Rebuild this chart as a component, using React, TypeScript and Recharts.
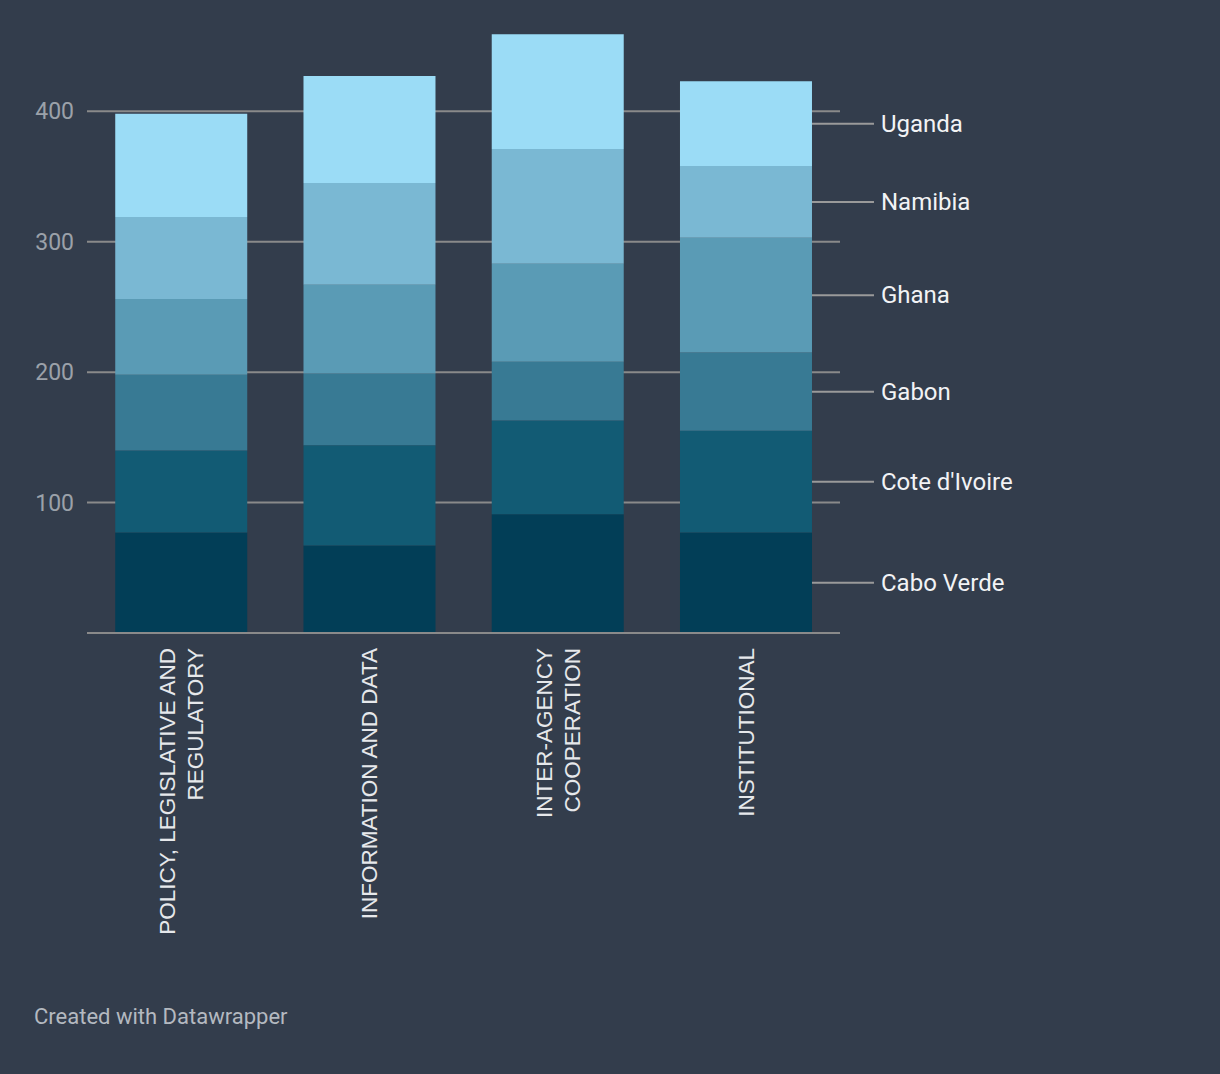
import React from 'react';
import { BarChart, Bar, XAxis, YAxis, CartesianGrid, LabelList } from 'recharts';

const categories = [
  'POLICY, LEGISLATIVE AND REGULATORY',
  'INFORMATION AND DATA',
  'INTER-AGENCY COOPERATION',
  'INSTITUTIONAL',
];
const tickLabelLines: string[][] = [
  ['POLICY, LEGISLATIVE AND', 'REGULATORY'],
  ['INFORMATION AND DATA'],
  ['INTER-AGENCY', 'COOPERATION'],
  ['INSTITUTIONAL'],
];

const caboVerde = [77, 67, 91, 77];
const coteDIvoire = [63, 77, 72, 78];
const gabon = [58, 55, 45, 60];
const ghana = [58, 68, 75, 88];
const namibia = [63, 78, 88, 55];
const uganda = [79, 82, 88, 65];

const seriesNames = ['Cabo Verde', "Cote d'Ivoire", 'Gabon', 'Ghana', 'Namibia', 'Uganda'];
const seriesValues = [caboVerde, coteDIvoire, gabon, ghana, namibia, uganda];
const seriesColors = ['#023e57', '#125b74', '#387a94', '#5a9bb5', '#7ab8d3', '#9bdcf6'];

const yTicks = [100, 200, 300, 400];

const data = categories.map((c, i) => {
  const row: any = { category: c, idx: i };
  seriesNames.forEach((s, k) => {
    row[s] = seriesValues[k][i];
  });
  return row;
});

const BG = '#333d4c';
const GRID = '#8a8a8a';

const XTick = (props: any) => {
  const { x, payload } = props;
  const lines = tickLabelLines[payload.index] || [String(payload.value)];
  const n = lines.length;
  const lh = 28;
  const startDy = -((n - 1) * lh) / 2 + 8.1;
  return (
    <g transform={`translate(${x},648)`}>
      <text
        transform="rotate(-90)"
        textAnchor="end"
        fill="#e6e8eb"
        fontFamily="'Liberation Sans', Arial, sans-serif"
        fontSize={22.5}
      >
        {lines.map((l, i) => (
          <tspan key={i} x={0} y={startDy + i * lh}>
            {l}
          </tspan>
        ))}
      </text>
    </g>
  );
};

const makeLabel = (name: string) => (props: any) => {
  const { x, y, width, height, index } = props;
  if (index !== categories.length - 1) return null;
  const cy = Number(y) + Number(height) / 2;
  const x0 = Number(x) + Number(width);
  return (
    <g>
      <line x1={x0} y1={cy} x2={x0 + 62} y2={cy} stroke="#9a9a9a" strokeWidth={2} />
      <text
        x={x0 + 69}
        y={cy}
        dy="0.34em"
        fill="#f2f3f5"
        fontFamily="Roboto"
        fontSize={24}
      >
        {name}
      </text>
    </g>
  );
};

export default function App() {
  return (
    <div
      style={{
        position: 'absolute',
        left: 0,
        top: 0,
        width: 1220,
        height: 1074,
        background: BG,
        overflow: 'hidden',
      }}
    >
      <BarChart
        width={1220}
        height={1074}
        data={data}
        margin={{ top: 33, right: 380, left: 0, bottom: 0 }}
        barCategoryGap="15%"
      >
        <CartesianGrid
          horizontal
          vertical={false}
          stroke={GRID}
          strokeWidth={2}
          horizontalCoordinatesGenerator={(args: any) => {
            const sc = args?.yAxis?.scale;
            if (sc && typeof sc === 'function') return yTicks.map((t) => sc(t));
            if (sc && typeof sc.map === 'function') return yTicks.map((t) => sc.map(t));
            return [];
          }}
        />
        <XAxis
          dataKey="category"
          height={441}
          interval={0}
          tickLine={false}
          axisLine={{ stroke: GRID, strokeWidth: 2 }}
          tick={<XTick />}
        />
        <YAxis
          width={87}
          domain={[0, 460]}
          ticks={yTicks}
          tickLine={false}
          axisLine={false}
          tickSize={0}
          tickMargin={13}
          tick={{ fill: '#9ba1a9', fontFamily: 'Roboto', fontSize: 23 }}
        />
        {seriesNames.map((s, k) => (
          <Bar
            key={s}
            dataKey={s}
            stackId="a"
            fill={seriesColors[k]}
            isAnimationActive={false}
          >
            <LabelList dataKey={s} content={makeLabel(s)} />
          </Bar>
        ))}
      </BarChart>
      <div
        style={{
          position: 'absolute',
          left: 34,
          top: 1005,
          fontFamily: 'Roboto',
          fontSize: 22,
          lineHeight: '24px',
          color: '#b4b9c0',
          whiteSpace: 'nowrap',
        }}
      >
        Created with Datawrapper
      </div>
    </div>
  );
}
